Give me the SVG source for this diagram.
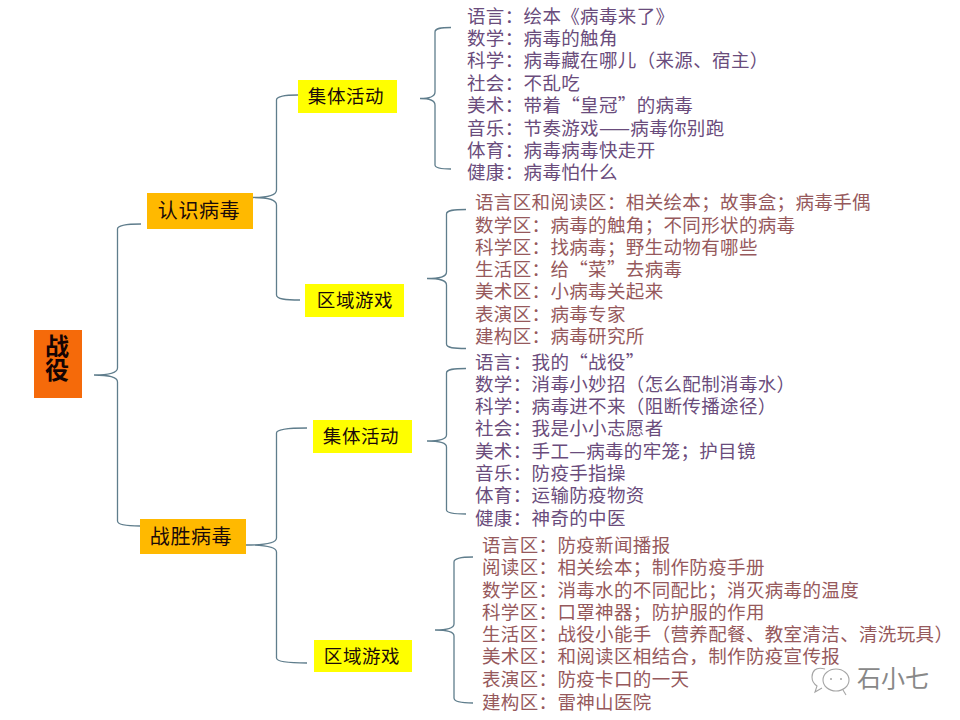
<svg xmlns="http://www.w3.org/2000/svg" width="960" height="720" viewBox="0 0 960 720">
<style>
text{font-family:"Noto Sans CJK SC","Noto Sans CJK TC",sans-serif}
.b{fill:none;stroke:#5f7d8c;stroke-width:1.3}
.o{fill:#ffb900}
.y{fill:#ffff00}
.n{font-size:18.500px;fill:#1a0a0a;text-anchor:middle;letter-spacing:.6px}
.p{font-size:18.500px;fill:#6a4c7c;letter-spacing:.35px}
.r{font-size:18.500px;fill:#96595c;letter-spacing:.35px}
.w{font-size:24px;fill:#888}
.i{fill:none;stroke:#a5a5a5;stroke-width:1.1}
</style>
<rect width="960" height="720" fill="#fff"/>
<g id="connectors">
<path class="b" d="M141 224C128 224 117.500 225 117.500 229V368C117.500 373 110 375 94 375C110 375 117.500 377 117.500 382V521C117.500 525 128 526 140 526"/>
<path class="b" d="M298 95C285 95 276.500 96 276.500 100V190C276.500 195 268 197.500 253 197.500C268 197.500 276.500 200 276.500 205V295C276.500 299 285 300 300 300"/>
<path class="b" d="M307 428C290 428 276.500 429 276.500 433V538C276.500 543 265 545 246 545C265 545 276.500 547 276.500 552V658C276.500 662 290 663 307 663"/>
<path class="b" d="M451 27.500C441 27.500 435 28 435 32V92C435 97 430 98.500 420 98.500C430 98.500 435 100 435 105V165C435 168 441 169 451 169"/>
<path class="b" d="M466 209.500C454 209.500 446.500 210 446.500 214V272C446.500 277 440 278.500 427 278.500C440 278.500 446.500 280 446.500 285V344C446.500 348 454 348.500 466 348.500"/>
<path class="b" d="M466 368.500C454 368.500 446.500 369 446.500 373V435C446.500 439 440 441 427 441C440 441 446.500 443 446.500 447V510C446.500 513 454 514 466 514"/>
<path class="b" d="M473 557C461 557 454 558 454 562V624C454 628 448 630 435 630C448 630 454 632 454 636V698C454 702 461 703 473 703"/>
</g>
<g id="root"><rect x="34" y="330" width="48" height="68" fill="#f56a0a"/><text x="57" y="355" font-size="24" font-weight="700" text-anchor="middle" fill="#140303">战</text><text x="57" y="379" font-size="24" font-weight="700" text-anchor="middle" fill="#140303">役</text></g>
<g id="n1"><rect class="o" x="147" y="193" width="106" height="36"/><text class="n" x="199" y="218" style="font-size:20px">认识病毒</text></g>
<g id="n2"><rect class="o" x="140" y="519" width="106" height="35"/><text class="n" x="191" y="544" style="font-size:20px">战胜病毒</text></g>
<g id="n3"><rect class="y" x="298" y="80" width="99" height="33"/><text class="n" x="346" y="103">集体活动</text></g>
<g id="n4"><rect class="y" x="305" y="284" width="99" height="33"/><text class="n" x="355" y="307">区域游戏</text></g>
<g id="n5"><rect class="y" x="313" y="420" width="99" height="33"/><text class="n" x="361" y="443">集体活动</text></g>
<g id="n6"><rect class="y" x="314" y="640" width="98" height="32"/><text class="n" x="362" y="663">区域游戏</text></g>
<g id="list1">
<text class="p" x="467" y="23">语言：绘本《病毒来了》</text>
<text class="p" x="467" y="45">数学：病毒的触角</text>
<text class="p" x="467" y="67">科学：病毒藏在哪儿（来源、宿主）</text>
<text class="p" x="467" y="90">社会：不乱吃</text>
<text class="p" x="467" y="112">美术：带着“皇冠”的病毒</text>
<text class="p" x="467" y="135">音乐：节奏游戏——病毒你别跑</text>
<text class="p" x="467" y="157">体育：病毒病毒快走开</text>
<text class="p" x="467" y="179">健康：病毒怕什么</text>
</g>
<g id="list2">
<text class="r" x="475" y="209">语言区和阅读区：相关绘本；故事盒；病毒手偶</text>
<text class="r" x="475" y="232">数学区：病毒的触角；不同形状的病毒</text>
<text class="r" x="475" y="254">科学区：找病毒；野生动物有哪些</text>
<text class="r" x="475" y="276">生活区：给“菜”去病毒</text>
<text class="r" x="475" y="298">美术区：小病毒关起来</text>
<text class="r" x="475" y="321">表演区：病毒专家</text>
<text class="r" x="475" y="343">建构区：病毒研究所</text>
</g>
<g id="list3">
<text class="p" x="475" y="369">语言：我的“战役”</text>
<text class="p" x="475" y="391">数学：消毒小妙招（怎么配制消毒水）</text>
<text class="p" x="475" y="413">科学：病毒进不来（阻断传播途径）</text>
<text class="p" x="475" y="435">社会：我是小小志愿者</text>
<text class="p" x="475" y="458">美术：手工—病毒的牢笼；护目镜</text>
<text class="p" x="475" y="480">音乐：防疫手指操</text>
<text class="p" x="475" y="502">体育：运输防疫物资</text>
<text class="p" x="475" y="525">健康：神奇的中医</text>
</g>
<g id="list4">
<text class="r" x="482" y="552">语言区：防疫新闻播报</text>
<text class="r" x="482" y="574">阅读区：相关绘本；制作防疫手册</text>
<text class="r" x="482" y="597">数学区：消毒水的不同配比；消灭病毒的温度</text>
<text class="r" x="482" y="619">科学区：口罩神器；防护服的作用</text>
<text class="r" x="482" y="641">生活区：战役小能手（营养配餐、教室清洁、清洗玩具）</text>
<text class="r" x="482" y="663">美术区：和阅读区相结合，制作防疫宣传报</text>
<text class="r" x="482" y="686">表演区：防疫卡口的一天</text>
<text class="r" x="482" y="709">建构区：雷神山医院</text>
</g>
<g id="watermark">
<path class="i" d="M825 669C815 666 812 672 812 677C812 681 814 684 817 686L815 692L822 688"/>
<ellipse class="i" cx="836" cy="680" rx="13" ry="11"/>
<path class="i" d="M843 690L846 695"/>
<circle cx="831" cy="679" r="1" fill="#a5a5a5"/><circle cx="841" cy="679" r="1" fill="#a5a5a5"/>
<text class="w" x="857" y="687">石小七</text>
</g>
</svg>
